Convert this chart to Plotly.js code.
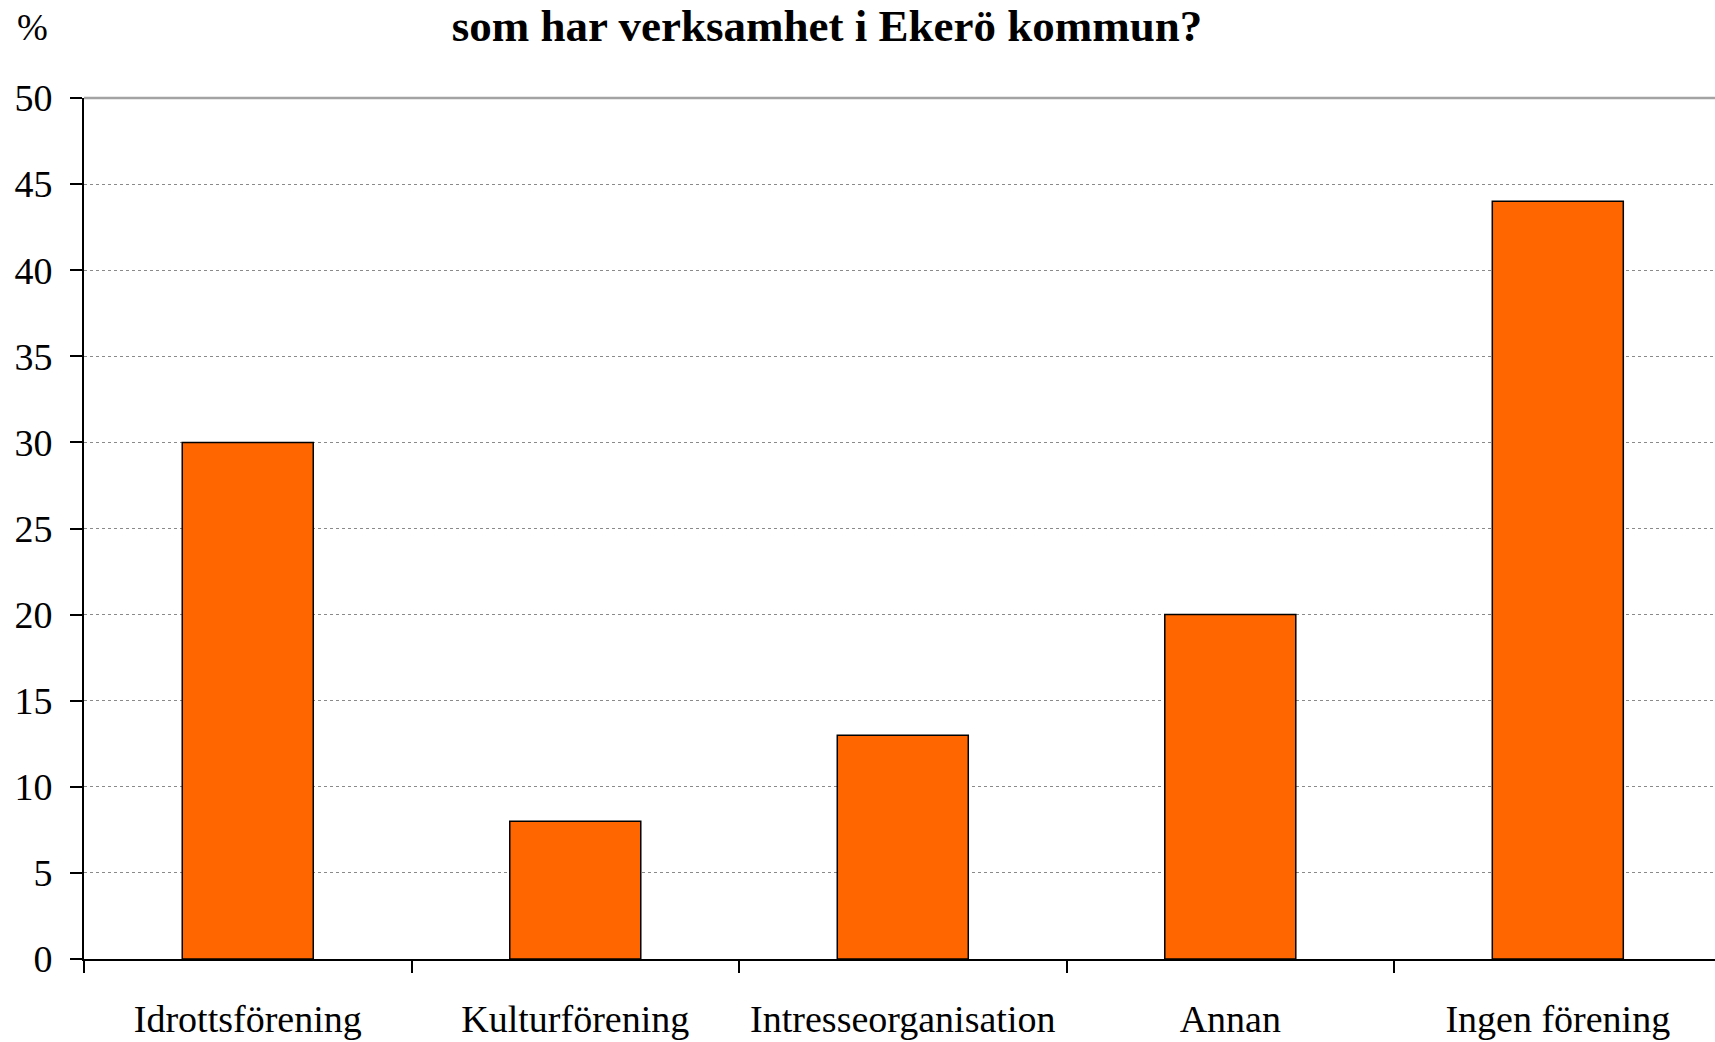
<!DOCTYPE html>
<html>
<head>
<meta charset="utf-8">
<script src="https://cdn.plot.ly/plotly-3.0.1.min.js"></script>
<style>
html,body{margin:0;padding:0;background:#fff;overflow:hidden;}
#chart{width:1715px;height:1042px;}
</style>
</head>
<body>
<div id="chart"></div>
<script>
const categories = ["Idrottsförening", "Kulturförening", "Intresseorganisation", "Annan", "Ingen förening"];
const percentValues = [30, 8, 13, 20, 44];
const yTickValues = [0, 5, 10, 15, 20, 25, 30, 35, 40, 45, 50];
const titleText = "som har verksamhet i Ekerö kommun?";
const unitLabel = "%";

const FONT = "Liberation Serif, Times New Roman, serif";

const trace = {
  type: "bar",
  x: categories,
  y: percentValues,
  marker: {color: "#FF6600", line: {color: "#000000", width: 1.5}},
  hoverinfo: "x+y"
};

const layout = {
  width: 1715,
  height: 1042,
  margin: {l: 84, r: 0, t: 98, b: 83, pad: 0},
  paper_bgcolor: "#ffffff",
  plot_bgcolor: "#ffffff",
  showlegend: false,
  bargap: 0.6,
  font: {family: FONT, color: "#000000"},
  title: {
    text: "<b>" + titleText + "</b>",
    font: {family: FONT, size: 45, color: "#000000"},
    xref: "container", yref: "container",
    x: 827 / 1715, xanchor: "center",
    y: 1 - 25 / 1042, yanchor: "middle"
  },
  xaxis: {
    type: "category",
    range: [-0.5, 4.48],
    showline: true, linecolor: "#000000", linewidth: 2,
    ticks: "outside", tickson: "boundaries", ticklen: 12, tickwidth: 2, tickcolor: "#000000",
    ticklabelstandoff: 25,
    tickfont: {family: FONT, size: 38, color: "#000000"},
    showgrid: false, zeroline: false, fixedrange: true
  },
  yaxis: {
    range: [0, 50],
    tickvals: yTickValues,
    ticktext: yTickValues.map(String),
    showline: true, linecolor: "#000000", linewidth: 2,
    ticks: "outside", ticklen: 12, tickwidth: 2, tickcolor: "#000000",
    ticklabelstandoff: 10,
    tickfont: {family: FONT, size: 38, color: "#000000"},
    showgrid: true, gridcolor: "#8a8a8a", gridwidth: 1, griddash: "dot",
    zeroline: false, fixedrange: true
  },
  shapes: [{
    type: "line", xref: "paper", yref: "paper",
    x0: 0, x1: 1, y0: 1, y1: 1,
    line: {color: "#a3a3a3", width: 2.5}
  }],
  annotations: [{
    text: unitLabel,
    xref: "paper", yref: "paper",
    x: (15 - 84) / (1715 - 84), xanchor: "left",
    y: 1 + (98 - 27) / 861, yanchor: "middle",
    showarrow: false,
    font: {family: FONT, size: 37, color: "#000000"}
  }]
};

Plotly.newPlot("chart", [trace], layout, {displayModeBar: false, staticPlot: true});
</script>
</body>
</html>
